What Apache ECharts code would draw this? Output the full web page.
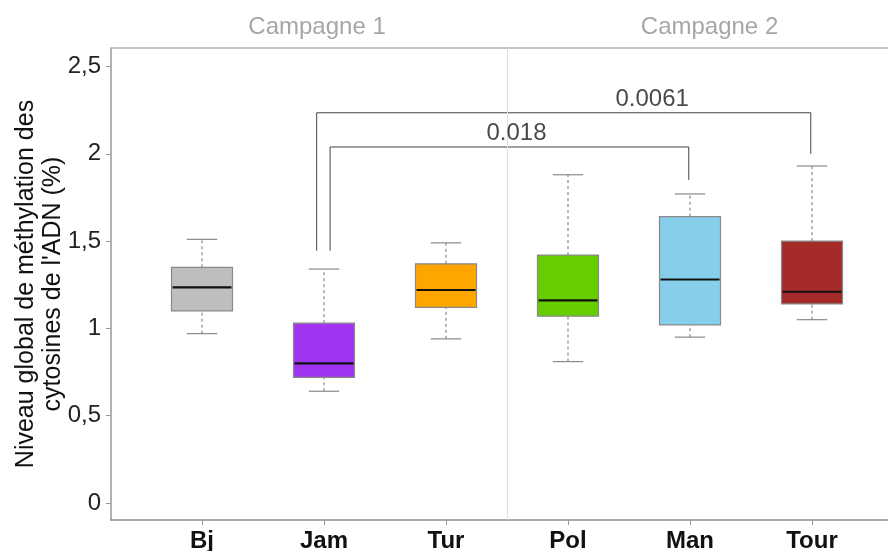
<!DOCTYPE html>
<html><head><meta charset="utf-8">
<script src="https://cdn.jsdelivr.net/npm/echarts@6/dist/echarts.min.js"></script>
<style>html,body{margin:0;padding:0;background:#fff}#c{width:888px;height:551px}</style>
</head><body><div id="c"></div>
<script>
// ---- data ----
const categories = ['Bj', 'Jam', 'Tur', 'Pol', 'Man', 'Tour'];
const whiskerLow  = [0.97, 0.64, 0.94, 0.81, 0.95, 1.05];
const q1          = [1.10, 0.72, 1.12, 1.07, 1.02, 1.14];
const median      = [1.235, 0.80, 1.22, 1.16, 1.28, 1.21];
const q3          = [1.35, 1.03, 1.37, 1.42, 1.64, 1.50];
const whiskerHigh = [1.51, 1.34, 1.49, 1.88, 1.77, 1.93];
const boxColors   = ['#bebebe', '#a034f0', '#ffa500', '#66cd00', '#87ceeb', '#a52a2a'];
const yTicks = [0, 0.5, 1, 1.5, 2, 2.5];
const campaigns = ['Campagne 1', 'Campagne 2'];
const campaignX = [0.943, 4.16];
const campaignSplit = 2.5;
// significance brackets: [xStart, xEnd, yLeftBottom, yTop, yRightBottom]
const bracketOuter = [0.94, 4.99, 1.445, 2.235, 2.0];
const bracketInner = [1.05, 3.99, 1.445, 2.039, 1.85];
const pLabels = [[3.69, 2.309, '0.0061'], [2.578, 2.115, '0.018']];

const FONT = 'Liberation Sans, Arial, Helvetica, sans-serif';
const X_MIN = -0.7459, X_MAX = 5.7459;
const Y_MIN = -0.0974, Y_MAX = 2.606;

const boxData = categories.map((c, i) => [i, whiskerLow[i], q1[i], median[i], q3[i], whiskerHigh[i]]);
const bracketPath = b => [[b[0], b[2]], [b[0], b[3]], [b[1], b[3]], [b[1], b[4]]];

const chart = echarts.init(document.getElementById('c'), null, {renderer: 'canvas'});
chart.setOption({
  animation: false,
  backgroundColor: '#fff',
  textStyle: {fontFamily: FONT},
  grid: {left: 111, top: 48, width: 792, height: 472, containLabel: false, outerBoundsMode: 'none'},
  xAxis: [{
    type: 'value', min: X_MIN, max: X_MAX, position: 'bottom',
    axisLine: {show: true, onZero: false, lineStyle: {color: '#8c8c8c', width: 1.5}},
    axisTick: {show: true, customValues: [0, 1, 2, 3, 4, 5], length: 5, lineStyle: {color: '#999'}},
    axisLabel: {customValues: [0, 1, 2, 3, 4, 5], formatter: v => categories[Math.round(v)],
      fontWeight: 'bold', fontSize: 24, color: '#111', margin: 9, fontFamily: FONT},
    splitLine: {show: false}
  }, {
    type: 'value', min: X_MIN, max: X_MAX, position: 'top',
    axisLine: {show: true, onZero: false, lineStyle: {color: '#b3b3b3', width: 1.5}},
    axisTick: {show: false},
    axisLabel: {customValues: campaignX, formatter: v => {
        let best = 0; campaignX.forEach((x, i) => { if (Math.abs(x - v) < Math.abs(campaignX[best] - v)) best = i; });
        return campaigns[best]; },
      color: '#a6a6a6', fontSize: 24, margin: 9, fontFamily: FONT},
    splitLine: {show: false}
  }],
  yAxis: {
    type: 'value', min: Y_MIN, max: Y_MAX,
    axisLine: {show: true, onZero: false, lineStyle: {color: '#999', width: 1.5}},
    axisTick: {show: true, customValues: yTicks, length: 5, lineStyle: {color: '#999'}},
    axisLabel: {customValues: yTicks, formatter: v => String(v).replace('.', ','),
      fontSize: 24, color: '#222', margin: 10, fontFamily: FONT},
    splitLine: {show: false},
    name: "Niveau global de méthylation des\ncytosines de l'ADN (%)",
    nameLocation: 'middle', nameGap: 44, nameMoveOverlap: false,
    nameTextStyle: {fontSize: 25, lineHeight: 27, color: '#111', fontFamily: FONT}
  },
  series: [{
    type: 'line', xAxisIndex: 0, z: 1, data: [], symbol: 'none',
    markLine: {silent: true, symbol: ['none', 'none'], label: {show: false},
      lineStyle: {color: '#dedede', width: 1, type: 'solid'}, data: [{xAxis: campaignSplit}]}
  }, {
    type: 'custom', xAxisIndex: 0, z: 3,
    data: boxData,
    encode: {x: 0, y: [1, 2, 3, 4, 5]},
    renderItem: (params, api) => {
      const x = api.value(0);
      const pLo = api.coord([x, api.value(1)]);
      const pQ1 = api.coord([x, api.value(2)]);
      const pMed = api.coord([x, api.value(3)]);
      const pQ3 = api.coord([x, api.value(4)]);
      const pHi = api.coord([x, api.value(5)]);
      const bw = api.size([1, 0])[0] * 0.5;
      const cw = bw / 2;
      const cx = pMed[0];
      const idx = params.dataIndex;
      const grey = '#8a8a8a';
      return {type: 'group', children: [
        {type: 'line', shape: {x1: cx, y1: pQ3[1], x2: cx, y2: pHi[1]}, style: {stroke: grey, lineWidth: 1.2, lineDash: [3, 3]}},
        {type: 'line', shape: {x1: cx, y1: pLo[1], x2: cx, y2: pQ1[1]}, style: {stroke: grey, lineWidth: 1.2, lineDash: [3, 3]}},
        {type: 'line', shape: {x1: cx - cw / 2, y1: pHi[1], x2: cx + cw / 2, y2: pHi[1]}, style: {stroke: grey, lineWidth: 1.2}},
        {type: 'line', shape: {x1: cx - cw / 2, y1: pLo[1], x2: cx + cw / 2, y2: pLo[1]}, style: {stroke: grey, lineWidth: 1.2}},
        {type: 'rect', shape: {x: cx - bw / 2, y: pQ3[1], width: bw, height: pQ1[1] - pQ3[1]},
          style: {fill: boxColors[idx], stroke: grey, lineWidth: 1.2}},
        {type: 'line', shape: {x1: cx - bw / 2 + 1, y1: pMed[1], x2: cx + bw / 2 - 1, y2: pMed[1]}, style: {stroke: '#111', lineWidth: 2.2}}
      ]};
    }
  }, {
    type: 'line', xAxisIndex: 0, z: 4, data: bracketPath(bracketOuter), symbol: 'none',
    lineStyle: {color: '#444', width: 1}
  }, {
    type: 'line', xAxisIndex: 0, z: 4, data: bracketPath(bracketInner), symbol: 'none',
    lineStyle: {color: '#444', width: 1}
  }, {
    type: 'scatter', xAxisIndex: 0, z: 5, symbolSize: 0, data: pLabels,
    label: {show: true, position: 'inside', formatter: p => p.value[2], fontSize: 24, color: '#1a1a1a', fontFamily: FONT}
  }]
});
</script></body></html>
